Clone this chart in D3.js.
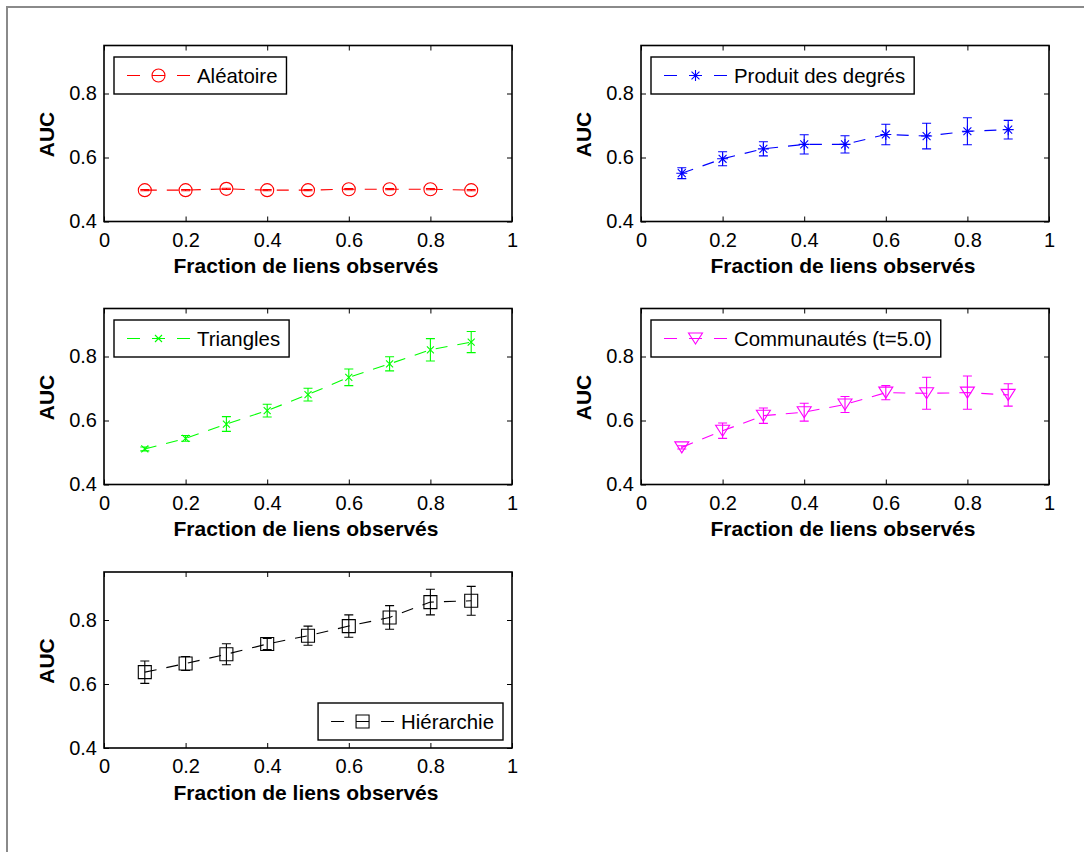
<!DOCTYPE html>
<html>
<head>
<meta charset="utf-8">
<script src="https://cdn.jsdelivr.net/npm/d3@7"></script>
<style>
  body { margin: 0; background: #fff; }
  svg text { font-family: "Liberation Sans", Arial, Helvetica, sans-serif; fill: #000; }
</style>
</head>
<body>
<svg id="fig" width="1084" height="852"></svg>
<script>
// Fraction of observed links (x values shared by every panel)
const fractions = [0.1, 0.2, 0.3, 0.4, 0.5, 0.6, 0.7, 0.8, 0.9];

// Mean AUC and error half-widths for each predictor
const aleatoireAUC = [0.498, 0.498, 0.502, 0.498, 0.498, 0.501, 0.501, 0.501, 0.498];
const aleatoireErr = [0.002, 0.002, 0.002, 0.002, 0.002, 0.002, 0.002, 0.002, 0.002];

const produitAUC = [0.551, 0.596, 0.627, 0.641, 0.641, 0.672, 0.667, 0.682, 0.687];
const produitErr = [0.017, 0.022, 0.022, 0.030, 0.027, 0.032, 0.040, 0.042, 0.029];

const trianglesAUC = [0.511, 0.544, 0.589, 0.631, 0.681, 0.735, 0.777, 0.821, 0.845];
const trianglesErr = [0.006, 0.009, 0.023, 0.020, 0.020, 0.026, 0.022, 0.035, 0.033];

const communautesAUC = [0.516, 0.568, 0.615, 0.626, 0.650, 0.687, 0.685, 0.687, 0.680];
const communautesErr = [0.005, 0.024, 0.024, 0.028, 0.025, 0.022, 0.050, 0.052, 0.035];

const hierarchieAUC = [0.637, 0.664, 0.693, 0.725, 0.751, 0.781, 0.808, 0.856, 0.860];
const hierarchieErr = [0.035, 0.022, 0.033, 0.017, 0.030, 0.035, 0.037, 0.040, 0.045];

// Axis tick values and titles
const xTicks = [0, 0.2, 0.4, 0.6, 0.8, 1];
const yTicks = [0.4, 0.6, 0.8];
const xDomain = [0, 1];
const yDomain = [0.4, 0.95];
const xTitle = "Fraction de liens observés";
const yTitle = "AUC";

const series = [
  { label: "Aléatoire", values: aleatoireAUC, errors: aleatoireErr, color: "#ff0000", marker: "circle", col: 0, row: 0, legend: "nw" },
  { label: "Produit des degrés", values: produitAUC, errors: produitErr, color: "#0000ff", marker: "asterisk", col: 1, row: 0, legend: "nw" },
  { label: "Triangles", values: trianglesAUC, errors: trianglesErr, color: "#00ff00", marker: "cross", col: 0, row: 1, legend: "nw" },
  { label: "Communautés (t=5.0)", values: communautesAUC, errors: communautesErr, color: "#ff00ff", marker: "triangleDown", col: 1, row: 1, legend: "nw" },
  { label: "Hiérarchie", values: hierarchieAUC, errors: hierarchieErr, color: "#000000", marker: "square", col: 0, row: 2, legend: "se" }
];

// Layout of the subplot grid
const colLeft = [104, 641];
const rowTop = [45.5, 308.5, 572];
const plotW = 408;
const plotH = 176;

const svg = d3.select("#fig");

// outer figure frame
svg.append("rect")
  .attr("x", 7).attr("y", 7).attr("width", 1200).attr("height", 1000)
  .attr("fill", "none").attr("stroke", "#8a8a8a").attr("stroke-width", 2);

// marker path generators, centred on (0,0)
function markerPath(kind) {
  const p = d3.path();
  if (kind === "circle") {
    p.moveTo(6.5, 0); p.arc(0, 0, 6.5, 0, 2 * Math.PI);
  } else if (kind === "asterisk") {
    const r = 5.5, d = r * 0.72;
    p.moveTo(-r, 0); p.lineTo(r, 0);
    p.moveTo(0, -r); p.lineTo(0, r);
    p.moveTo(-d, -d); p.lineTo(d, d);
    p.moveTo(-d, d); p.lineTo(d, -d);
  } else if (kind === "cross") {
    const r = 3.5;
    p.moveTo(-r, -r); p.lineTo(r, r);
    p.moveTo(-r, r); p.lineTo(r, -r);
  } else if (kind === "triangleDown") {
    p.moveTo(-7, -5.5); p.lineTo(7, -5.5); p.lineTo(0, 5.5); p.closePath();
  } else if (kind === "square") {
    p.rect(-6.5, -6.5, 13, 13);
  }
  return p.toString();
}

const fmt = d => String(d);

series.forEach(s => {
  const x0 = colLeft[s.col], y0 = rowTop[s.row];
  const g = svg.append("g").attr("transform", `translate(${x0},${y0})`);

  const x = d3.scaleLinear().domain(xDomain).range([0, plotW]);
  const y = d3.scaleLinear().domain(yDomain).range([plotH, 0]);

  // axes: labelled bottom/left, bare ticks on top/right; all ticks point inwards
  const styleAxis = sel => {
    sel.select(".domain").remove();
    sel.selectAll(".tick line").attr("stroke", "#000").attr("stroke-width", 1);
    sel.selectAll(".tick text").attr("font-size", 20).attr("fill", "#000")
      .style("font-family", '"Liberation Sans", Arial, sans-serif');
  };
  g.append("g").attr("transform", `translate(0,${plotH})`)
    .call(d3.axisBottom(x).tickValues(xTicks).tickFormat(fmt).tickSizeInner(-5).tickSizeOuter(0).tickPadding(11))
    .call(styleAxis);
  g.append("g")
    .call(d3.axisLeft(y).tickValues(yTicks).tickFormat(fmt).tickSizeInner(-5).tickSizeOuter(0).tickPadding(7))
    .call(styleAxis);
  g.append("g")
    .call(d3.axisTop(x).tickValues(xTicks).tickFormat("").tickSizeInner(-5).tickSizeOuter(0))
    .call(styleAxis);
  g.append("g").attr("transform", `translate(${plotW},0)`)
    .call(d3.axisRight(y).tickValues(yTicks).tickFormat("").tickSizeInner(-5).tickSizeOuter(0))
    .call(styleAxis);

  // axes box
  g.append("rect").attr("width", plotW).attr("height", plotH)
    .attr("fill", "none").attr("stroke", "#000").attr("stroke-width", 1.6);

  // axis titles
  g.append("text").attr("x", plotW / 2 - 2).attr("y", plotH + 51.5)
    .attr("text-anchor", "middle").attr("font-size", 21).attr("font-weight", "bold")
    .text(xTitle);
  g.append("text").attr("transform", `translate(-50,${plotH / 2 + 1}) rotate(-90)`)
    .attr("text-anchor", "middle").attr("font-size", 21).attr("font-weight", "bold")
    .text(yTitle);

  const pts = fractions.map((f, i) => ({ f, v: s.values[i], e: s.errors[i] }));

  // dashed connecting line
  g.append("path")
    .attr("d", d3.line().x(d => x(d.f)).y(d => y(d.v))(pts))
    .attr("fill", "none").attr("stroke", s.color).attr("stroke-width", 1.1)
    .attr("stroke-dasharray", "12,10");

  // error bars with caps
  const eb = g.append("g").attr("stroke", s.color).attr("stroke-width", 1.1).attr("fill", "none");
  pts.forEach(d => {
    const cx = x(d.f), top = y(d.v + d.e), bot = y(d.v - d.e);
    const p = d3.path();
    p.moveTo(cx, top); p.lineTo(cx, bot);
    p.moveTo(cx - 4.5, top); p.lineTo(cx + 4.5, top);
    p.moveTo(cx - 4.5, bot); p.lineTo(cx + 4.5, bot);
    eb.append("path").attr("d", p.toString());
  });

  // markers
  g.append("g").selectAll("path").data(pts).join("path")
    .attr("transform", d => `translate(${x(d.f)},${y(d.v)})`)
    .attr("d", markerPath(s.marker))
    .attr("fill", "none").attr("stroke", s.color).attr("stroke-width", 1.1);

  // legend
  const lg = g.append("g");
  const boxH = 37;
  const txt = lg.append("text").attr("x", 83).attr("y", boxH / 2 + 7.2)
    .attr("font-size", 20.4).text(s.label);
  const boxW = 83 + txt.node().getComputedTextLength() + 9;
  lg.insert("rect", "text").attr("width", boxW).attr("height", boxH)
    .attr("fill", "#fff").attr("stroke", "#000").attr("stroke-width", 1.4);
  lg.append("line").attr("x1", 13).attr("x2", 76).attr("y1", boxH / 2).attr("y2", boxH / 2)
    .attr("stroke", s.color).attr("stroke-width", 1.1).attr("stroke-dasharray", "13,12");
  lg.append("path").attr("transform", `translate(44.5,${boxH / 2})`)
    .attr("d", markerPath(s.marker))
    .attr("fill", "none").attr("stroke", s.color).attr("stroke-width", 1.1);
  if (s.legend === "nw") {
    lg.attr("transform", "translate(10,11.5)");
  } else {
    lg.attr("transform", `translate(${plotW - 9 - boxW},${plotH - 8 - boxH})`);
  }
});
</script>
</body>
</html>
